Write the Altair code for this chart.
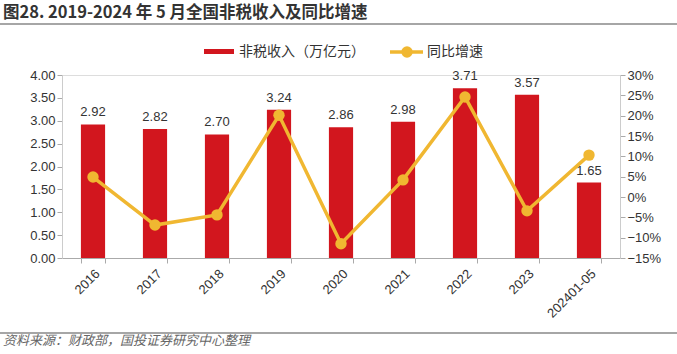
import altair as alt
import pandas as pd

categories = ["2016", "2017", "2018", "2019", "2020", "2021", "2022", "2023", "202401-05"]
revenue = [2.92, 2.82, 2.70, 3.24, 2.86, 2.98, 3.71, 3.57, 1.65]
growth = [4.9, -6.9, -4.4, 20.1, -11.5, 4.2, 24.6, -3.4, 10.3]

title_text = "图28. 2019-2024 年 5 月全国非税收入及同比增速"
source_text = "资料来源：财政部，国投证券研究中心整理"
legend_bar = "非税收入（万亿元）"
legend_line = "同比增速"

RED = "#D2161E"
GOLD = "#F0B731"
FONT = "Liberation Sans"
CJK = "Noto Sans CJK SC"

df = pd.DataFrame({"cat": categories, "rev": revenue, "g": growth})
df["lab"] = [f"{v:.2f}" for v in revenue]

W, H = 558, 183

xenc = alt.X("cat:N", sort=categories, title=None,
             scale=alt.Scale(paddingInner=0.61, paddingOuter=0.305),
             axis=alt.Axis(labelAngle=-45, labelFontSize=13, labelColor="#333",
                           labelFont=FONT, tickBand="extent", domainColor="#aaa",
                           tickColor="#aaa", tickSize=5, labelPadding=4,
                           labelOverlap=False, labelFlush=False))

yleft = alt.Y("rev:Q", title=None,
              scale=alt.Scale(domain=[0, 4], nice=False),
              axis=alt.Axis(values=[0, 0.5, 1, 1.5, 2, 2.5, 3, 3.5, 4], format=".2f",
                            grid=False, labelFontSize=13, labelColor="#333", labelFont=FONT,
                            domainColor="#ccc", tickColor="#aaa", tickSize=5, orient="left",
                            labelOverlap=False, labelFlush=False))

yright = alt.Y("g:Q", title=None,
               scale=alt.Scale(domain=[-15, 30], nice=False),
               axis=alt.Axis(values=list(range(-15, 31, 5)),
                             labelExpr="format(datum.value, 'd') + '%'",
                             grid=False, labelFontSize=13, labelColor="#333", labelFont=FONT,
                             domainColor="#ccc", tickColor="#aaa", tickSize=5, orient="right",
                             labelOverlap=False, labelFlush=False))

base = alt.Chart(df)

bars = base.mark_bar(color=RED).encode(x=xenc, y=yleft)
bar_text = base.mark_text(dy=-12, fontSize=13, color="#333", font=FONT).encode(
    x=xenc, y=yleft, text="lab:N"
)
left = alt.layer(bars, bar_text)

line = base.mark_line(color=GOLD, strokeWidth=3.5).encode(x=xenc, y=yright)
pts = base.mark_point(color=GOLD, filled=True, opacity=1, size=130).encode(x=xenc, y=yright)
right = alt.layer(line, pts)

one = pd.DataFrame({"a": [0]})

def text_at(t, x, y, **kw):
    return alt.Chart(pd.DataFrame({"t": [t]})).mark_text(align="left", baseline="middle", **kw).encode(
        text="t:N", x=alt.value(x), y=alt.value(y))

def hrule(x1, x2, y, color, w):
    return alt.Chart(one).mark_rule(color=color, strokeWidth=w).encode(
        x=alt.value(x1), x2=alt.value(x2), y=alt.value(y))

deco = alt.layer(
    text_at(title_text, -59, -62, fontSize=16.5, fontWeight="bold", color="#333", font=CJK),
    hrule(-62, 615, -51, "#888", 1.5),
    alt.Chart(one).mark_rect(color=RED).encode(
        x=alt.value(142), x2=alt.value(172), y=alt.value(-26), y2=alt.value(-21)),
    text_at(legend_bar, 177, -23, fontSize=14, color="#333", font=CJK),
    hrule(328, 361, -23, GOLD, 3.5),
    alt.Chart(one).mark_point(color=GOLD, filled=True, opacity=1, size=130).encode(
        x=alt.value(345), y=alt.value(-23)),
    text_at(legend_line, 365, -23, fontSize=14, color="#333", font=CJK),
    hrule(-62, 615, 258, "#888", 1.5),
    text_at(source_text, -59, 266, fontSize=13, color="#666", font=CJK, fontStyle="italic"),
)

chart = alt.layer(left, right, deco).resolve_scale(y="independent").properties(
    width=W, height=H,
    autosize=alt.AutoSizeParams(type="none"),
    padding={"left": 62, "top": 75, "right": 677 - 62 - W, "bottom": 354 - 75 - H},
).configure_view(stroke=None).configure_axis(labelOverlap=False).configure(background="white")

chart.save("out.html", embed_options={"renderer": "svg", "actions": False})
